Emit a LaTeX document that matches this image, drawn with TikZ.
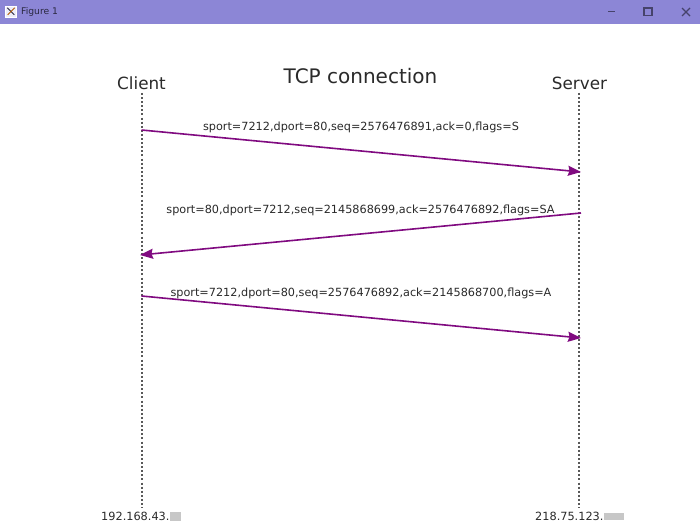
\documentclass[tikz,border=0pt]{standalone}
\usepackage{fontspec}
\setmainfont{DejaVu Sans}
\usetikzlibrary{arrows.meta}
\definecolor{barc}{HTML}{8C86D6}
\definecolor{arrowc}{HTML}{800A80}
\definecolor{txtc}{HTML}{2A2A2A}
\tikzset{
  lbl/.style={inner sep=0pt,text=txtc,anchor=center},
  msglbl/.style={lbl,font=\fontsize{11.25bp}{13bp}\selectfont},
  iplbl/.style={lbl,anchor=west,font=\fontsize{11.3bp}{13bp}\selectfont},
  endlbl/.style={lbl,font=\fontsize{16.8bp}{20bp}\selectfont},
  life/.style={line width=2bp,black!65,dash pattern=on 2bp off 2.1bp},
  msg/.style={line width=1.6bp,arrowc,-{Stealth[length=13bp,width=10bp,inset=1.5bp]}},
  winbtn/.style={line width=1.2bp,draw=barc!50!black}
}
\begin{document}
\begin{tikzpicture}[x=1bp,y=-1bp]
\useasboundingbox (0,0) rectangle (700,529);
\fill[white] (0,0) rectangle (700,529);
% window title bar
\fill[barc] (0,0) rectangle (700,24);
\node[lbl,anchor=west,font=\fontsize{9.2bp}{11bp}\selectfont,text=barc!30!black] (title) at (21,11.5) {Figure 1};
\node[draw=white,fill=white!85!barc,minimum size=11bp,inner sep=0pt] (icon) at (11,11.5) {};
\draw[line width=1bp,barc!30!black] (icon.north west) ++(2,2) -- ++(7,7);
\draw[line width=1bp,orange!70!black] (icon.north east) ++(-2,2) -- ++(-7,7);
\draw[winbtn] (608,11.5) -- (615,11.5);
\draw[winbtn] (644,8) rectangle (652,15.5);
\draw[winbtn] (682,8) -- (690,16) (690,8) -- (682,16);
% headings
\node[lbl,font=\fontsize{20bp}{24bp}\selectfont] (heading) at (360.5,76) {TCP connection};
\node[endlbl] (client) at (141.5,83) {Client};
\node[endlbl] (server) at (579.5,83) {Server};
% addresses
\node[iplbl] (cip) at (101,516.5) {192.168.43.};
\fill[black!22] (170,512) rectangle (181,521);
\node[iplbl] (sip) at (535,516.5) {218.75.123.};
\fill[black!22] (604,513) rectangle (624,520);
% lifelines
\coordinate (ctop) at (142,93);
\coordinate (cbot) at (142,508);
\coordinate (stop) at (579,93);
\coordinate (sbot) at (579,508);
\draw[life] (ctop) -- (cbot);
\draw[life] (stop) -- (sbot);
% messages
\coordinate (m1a) at (141.5,130);
\coordinate (m1b) at (581,172);
\coordinate (m2a) at (581,213);
\coordinate (m2b) at (140,255);
\coordinate (m3a) at (141.5,296);
\coordinate (m3b) at (581,338);
\draw[msg] (m1a) -- (m1b);
\draw[msg] (m2a) -- (m2b);
\draw[msg] (m3a) -- (m3b);
\node[msglbl] (l1) at (361,127.5) {sport=7212,dport=80,seq=2576476891,ack=0,flags=S};
\node[msglbl] (l2) at (360.5,210) {sport=80,dport=7212,seq=2145868699,ack=2576476892,flags=SA};
\node[msglbl] (l3) at (361,293.5) {sport=7212,dport=80,seq=2576476892,ack=2145868700,flags=A};
\end{tikzpicture}
\end{document}
